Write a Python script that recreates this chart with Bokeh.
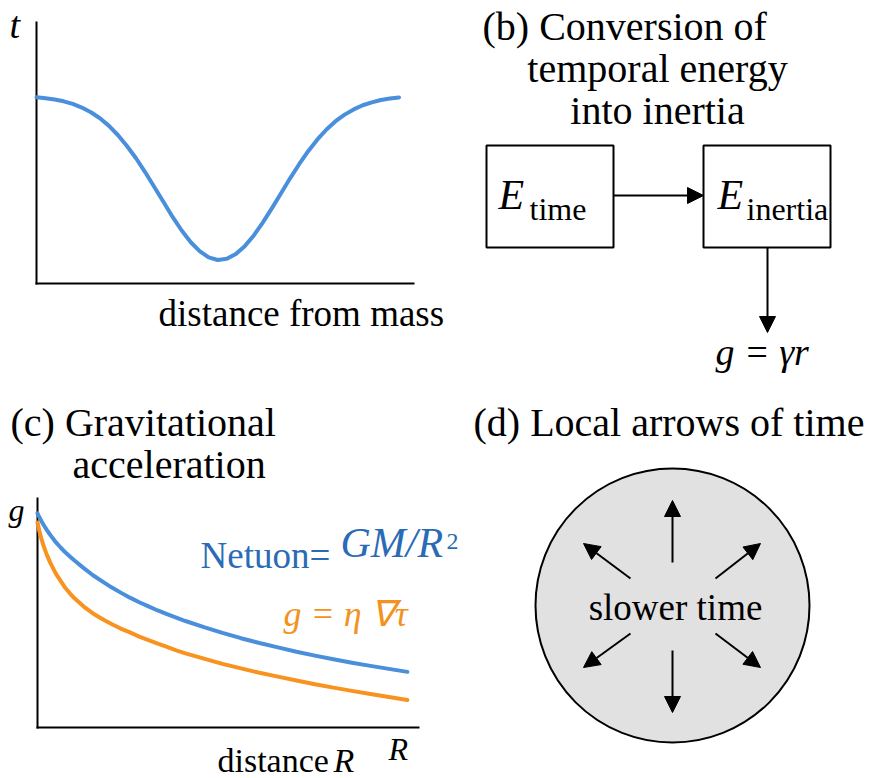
from bokeh.plotting import figure
from bokeh.models import Range1d, Arrow, NormalHead, ColumnDataSource
from bokeh.core.properties import value
from bokeh.embed import file_html
from bokeh.resources import INLINE

# ---------------- data ----------------
# (a) time rate vs distance from mass
dist_a = [0, 0.25, 0.5, 0.75, 1, 1.25, 1.5, 1.75, 2, 2.25, 2.5, 2.75, 3, 3.25, 3.5, 3.75,
          4, 4.25, 4.5, 4.75, 5, 5.25, 5.5, 5.75, 6, 6.25, 6.5, 6.75, 7, 7.25, 7.5, 7.75,
          8, 8.25, 8.5, 8.75, 9, 9.25, 9.5, 9.75, 10]
t_a = [0.714, 0.710, 0.705, 0.698, 0.688, 0.674, 0.656, 0.633, 0.604, 0.568, 0.526, 0.479,
       0.426, 0.370, 0.313, 0.256, 0.204, 0.159, 0.124, 0.100, 0.090, 0.095, 0.113, 0.144,
       0.185, 0.235, 0.290, 0.347, 0.404, 0.458, 0.508, 0.552, 0.590, 0.622, 0.647, 0.667,
       0.683, 0.694, 0.703, 0.709, 0.713]

# (c) gravitational acceleration vs distance R
dist_c = [0, 0.05, 0.1, 0.175, 0.25, 0.35, 0.5, 0.625, 0.75, 0.875, 1, 1.25, 1.5, 1.75, 2,
          2.25, 2.5, 2.75, 3, 3.25, 3.5, 3.75, 4, 4.5, 5, 5.5, 6, 6.5, 7, 7.5, 8, 8.5, 9,
          9.5, 10]
g_newton = [0.935, 0.919, 0.903, 0.882, 0.863, 0.840, 0.808, 0.786, 0.765, 0.747, 0.729,
            0.696, 0.665, 0.638, 0.612, 0.589, 0.567, 0.547, 0.529, 0.511, 0.495, 0.480,
            0.465, 0.438, 0.413, 0.390, 0.369, 0.350, 0.331, 0.314, 0.298, 0.283, 0.269,
            0.256, 0.243]
g_time = [0.895, 0.858, 0.827, 0.788, 0.755, 0.718, 0.671, 0.640, 0.610, 0.586, 0.564,
          0.528, 0.498, 0.474, 0.452, 0.432, 0.415, 0.397, 0.382, 0.366, 0.352, 0.337,
          0.324, 0.301, 0.278, 0.258, 0.239, 0.222, 0.205, 0.189, 0.174, 0.160, 0.146,
          0.133, 0.120]

title_b = ["(b) Conversion of", "temporal energy", "into inertia"]
title_c = ["(c) Gravitational", "acceleration"]
title_d = "(d) Local arrows of time"

# ---------------- styles ----------------
BLUE = "#4a8fdb"
ORANGE = "#f7931e"
BLUE_TXT = "#2a6bb5"
ORANGE_TXT = "#f39221"
SERIF = value("Liberation Serif")
BASE_SHIFT = 0.30   # em offset correcting where the renderer puts the baseline

W, H = 870, 778

p = figure(width=W, height=H, x_range=Range1d(0, W), y_range=Range1d(H, 0),
           output_backend="svg", toolbar_location=None, min_border=0,
           x_axis_location=None, y_axis_location=None, outline_line_color=None)
p.background_fill_color = "white"
p.border_fill_color = "white"
p.xgrid.visible = False
p.ygrid.visible = False


def span_range(p0, p1, d0, d1, total):
    k = (d1 - d0) / (p1 - p0)
    return Range1d(d0 - p0 * k, d0 + (total - p0) * k)


p.extra_x_ranges = {"ax": span_range(36, 413, 0, 10.4, W),
                    "cx": span_range(37, 418, 0, 10.3, W)}
p.extra_y_ranges = {"ay": span_range(H - 283, H - 22, 0, 1, H),
                    "cy": span_range(H - 727, H - 498, 0, 1, H)}


def txt(x, y, s, size, color="black", italic=False, align="left", font=SERIF):
    px = float(size.replace("px", ""))
    p.text(x=[x], y=[y - BASE_SHIFT * px], text=[s], text_font=font, text_font_size=size,
           text_color=color, text_font_style="italic" if italic else "normal",
           text_baseline="alphabetic", text_align=align)


# ---------------- panel (a) ----------------
p.segment(x0=[0, 0], y0=[0, 0], x1=[10.4, 0], y1=[0, 1], x_range_name="ax",
          y_range_name="ay", line_color="black", line_width=2, line_cap="square")
p.line(dist_a, t_a, x_range_name="ax", y_range_name="ay", line_color=BLUE,
       line_width=4, line_cap="round", line_join="round")
txt(9, 36, "t", "38px", italic=True)
txt(158, 324, "distance from mass", "37px")

# ---------------- panel (b) ----------------
txt(482, 38, title_b[0], "40px")
txt(657, 80, title_b[1], "40px", align="center")
txt(657, 122, title_b[2], "40px", align="center")
p.quad(left=[486, 703], right=[613, 830], top=[145, 145], bottom=[247, 247],
       fill_color=None, line_color="black", line_width=2)
txt(498, 207, "E", "42px", italic=True)
txt(529, 218, "time", "32px")
txt(717, 207, "E", "42px", italic=True)
txt(746, 218, "inertia", "32px")
txt(715, 363, "g = γr", "38px", italic=True)

arrows_b = ColumnDataSource(dict(x0=[613, 767], y0=[195, 247], x1=[703, 767], y1=[195, 332]))
p.add_layout(Arrow(source=arrows_b, x_start="x0", y_start="y0", x_end="x1", y_end="y1",
                   line_width=2, line_color="black",
                   end=NormalHead(size=16, fill_color="black", line_color="black")))

# ---------------- panel (c) ----------------
txt(10, 434, title_c[0], "40px")
txt(72, 476, title_c[1], "40px")
p.segment(x0=[0, 0], y0=[0, 0], x1=[10.3, 0], y1=[0, 1], x_range_name="cx",
          y_range_name="cy", line_color="black", line_width=2, line_cap="square")
p.line(dist_c, g_newton, x_range_name="cx", y_range_name="cy", line_color=BLUE,
       line_width=4, line_cap="round", line_join="round")
p.line(dist_c, g_time, x_range_name="cx", y_range_name="cy", line_color=ORANGE,
       line_width=4, line_cap="round", line_join="round")
txt(8, 519, "g", "32px", italic=True)
txt(200, 566, "Netuon=", "37px", color=BLUE_TXT)
txt(340, 555, "GM/R", "42px", color=BLUE_TXT, italic=True)
txt(446, 548, "2", "24px", color=BLUE_TXT)
txt(283, 624, "g = η ∇τ", "36px", color=ORANGE_TXT, italic=True)
txt(217, 770, "distance", "34px")
txt(333, 770, "R", "34px", italic=True)
txt(388, 758, "R", "32px", italic=True)

# ---------------- panel (d) ----------------
txt(473, 434, title_d, "40px")
p.circle(x=[672], y=[605], radius=137, fill_color="#e1e1e1", line_color="black",
         line_width=2)
arrows_d = ColumnDataSource(dict(
    x0=[672, 672, 630, 715, 630, 715],
    y0=[562, 650, 578, 578, 633, 633],
    x1=[672, 672, 583, 760, 583, 760],
    y1=[500, 712, 543, 543, 667, 667]))
p.add_layout(Arrow(source=arrows_d, x_start="x0", y_start="y0", x_end="x1", y_end="y1",
                   line_width=2, line_color="black",
                   end=NormalHead(size=16, fill_color="black", line_color="black")))
txt(675, 618, "slower time", "37px", align="center")

open("out.html", "w").write(file_html(p, INLINE))
